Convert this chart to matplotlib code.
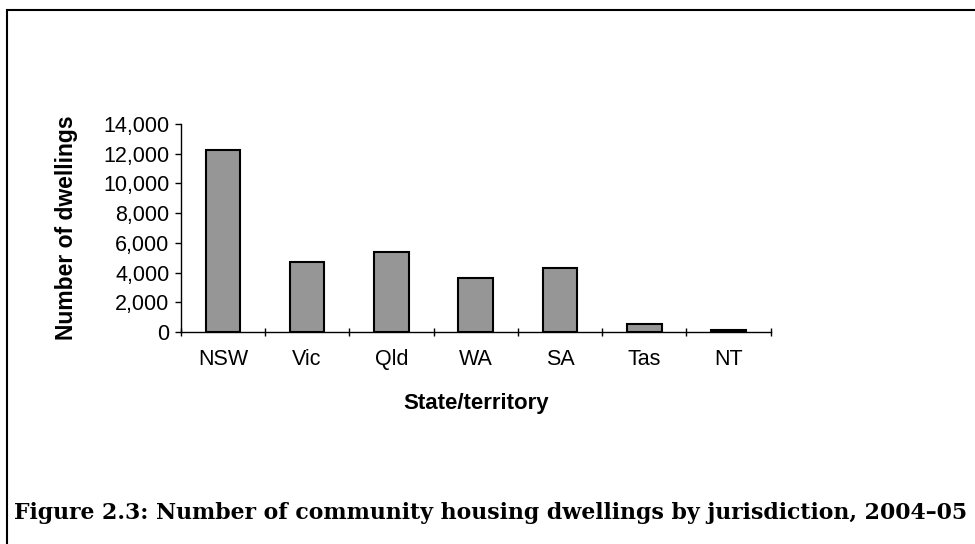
import matplotlib.pyplot as plt
from matplotlib.patches import Rectangle
from matplotlib.ticker import FuncFormatter

states = ['NSW', 'Vic', 'Qld', 'WA', 'SA', 'Tas', 'NT']
dwellings = [12250, 4700, 5370, 3620, 4290, 540, 135]
yticks = [0, 2000, 4000, 6000, 8000, 10000, 12000, 14000]

W, H = 975, 544
fig = plt.figure(figsize=(W / 100, H / 100), dpi=100)
ax = fig.add_axes([180.7 / W, 1 - 332 / H, 590 / W, 208 / H])

ax.bar(range(len(states)), dwellings, width=0.41, color='#969696',
       edgecolor='black', linewidth=1.5)
ax.set_xlim(-0.5, len(states) - 0.5)
ax.set_ylim(0, 14000)
ax.set_yticks(yticks)
ax.yaxis.set_major_formatter(FuncFormatter(lambda v, p: f'{int(v):,}'))

ax.set_xticks(range(len(states)))
ax.set_xticklabels(states)
ax.set_xticks([i - 0.5 for i in range(len(states) + 1)], minor=True)
ax.tick_params(axis='x', which='major', length=0, pad=12)
ax.tick_params(axis='x', which='minor', length=6, width=1, direction='inout')
ax.tick_params(axis='y', length=4, width=1, direction='out', pad=4)

for s in ['top', 'right']:
    ax.spines[s].set_visible(False)
for s in ['left', 'bottom']:
    ax.spines[s].set_linewidth(1)

for lab in ax.get_xticklabels() + ax.get_yticklabels():
    lab.set_fontfamily('Liberation Sans')
    lab.set_fontsize(15.5)

fig.text(66 / W, 1 - 228 / H, 'Number of dwellings', rotation=90,
         fontfamily='Liberation Sans', fontsize=16.5, fontweight='bold',
         ha='center', va='center')
fig.text(476 / W, 1 - 404 / H, 'State/territory',
         fontfamily='Liberation Sans', fontsize=16, fontweight='bold',
         ha='center', va='center')

# outer frame
fig.patches.append(Rectangle((7 / W, -0.1), 1.2, 1 - 10 / H + 0.1,
                             transform=fig.transFigure, fill=False,
                             edgecolor='black', linewidth=1.5))

fig.text(14 / W, 1 - 519.5 / H,
         'Figure 2.3: Number of community housing dwellings by jurisdiction, 2004\u201305',
         fontfamily='DejaVu Serif', fontweight='bold', fontsize=15.8,
         va='baseline', ha='left')

fig.savefig('out.png', dpi=100)
